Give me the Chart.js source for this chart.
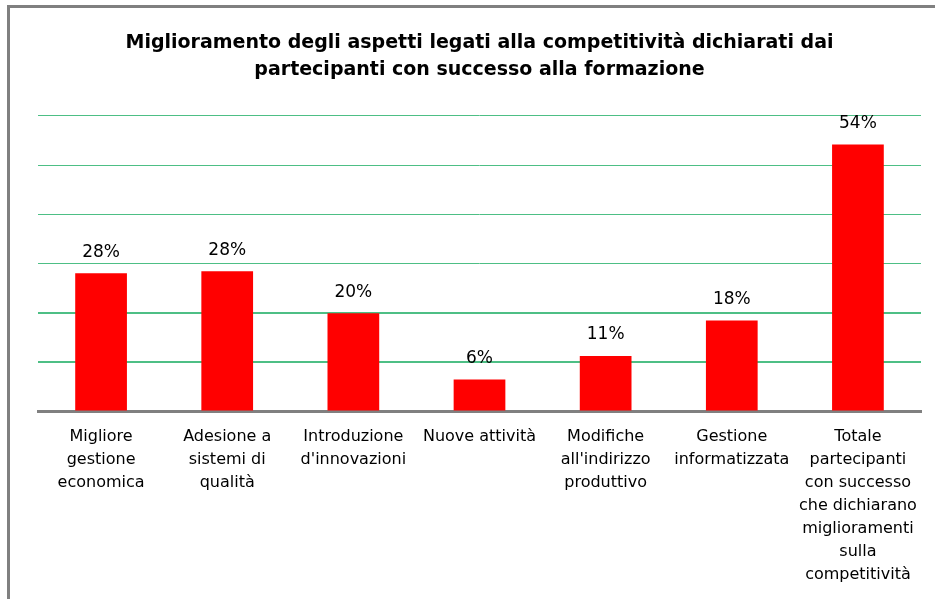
<!DOCTYPE html>
<html>
<head>
<meta charset="utf-8">
<script src="https://cdn.jsdelivr.net/npm/chart.js@4"></script>
<style>
  html, body { margin:0; padding:0; background:#fff; }
  #wrap { position:relative; width:935px; height:599px; overflow:hidden; background:#fff; }
  #frame { position:absolute; left:7px; top:5px; width:1000px; height:700px; border-left:3px solid #808080; border-top:3px solid #808080; pointer-events:none; }
  canvas { position:absolute; left:0; top:0; }
</style>
</head>
<body>
<div id="wrap">
  <canvas id="c" width="935" height="599"></canvas>
  <div id="frame"></div>
</div>
<script>
const titleLines = [
  "Miglioramento degli aspetti legati alla competitività dichiarati dai",
  "partecipanti con successo alla formazione"
];
const categories = [
  ["Migliore", "gestione", "economica"],
  ["Adesione a", "sistemi di", "qualità"],
  ["Introduzione", "d'innovazioni"],
  ["Nuove attività"],
  ["Modifiche", "all'indirizzo", "produttivo"],
  ["Gestione", "informatizzata"],
  ["Totale", "partecipanti", "con successo", "che dichiarano", "miglioramenti", "sulla", "competitività"]
];
const values = [28.0, 28.4, 19.9, 6.4, 11.2, 18.4, 54.2];
const yTicks = [0, 10, 20, 30, 40, 50, 60];

const labelPlugin = {
  id: 'valueLabels',
  afterDatasetsDraw(chart) {
    const ctx = chart.ctx;
    const meta = chart.getDatasetMeta(0);
    ctx.save();
    ctx.font = '17px "DejaVu Sans", Verdana, sans-serif';
    ctx.fillStyle = '#000';
    ctx.textAlign = 'center';
    ctx.textBaseline = 'middle';
    meta.data.forEach((bar, i) => {
      ctx.fillText(Math.round(values[i]) + '%', bar.x, bar.y - 21);
    });
    ctx.restore();
  }
};

new Chart(document.getElementById('c'), {
  type: 'bar',
  data: {
    labels: categories,
    datasets: [{
      data: values,
      backgroundColor: '#ff0000',
      borderWidth: 0,
      categoryPercentage: 1.0,
      barPercentage: 0.41
    }]
  },
  options: {
    responsive: false,
    animation: false,
    layout: { padding: { left: 38, right: 14, top: 0, bottom: 0 } },
    plugins: {
      legend: { display: false },
      tooltip: { enabled: false },
      title: {
        display: true,
        text: titleLines,
        color: '#000',
        font: { family: '"DejaVu Sans", Verdana, sans-serif', size: 19, weight: 'bold', lineHeight: 1.42 },
        padding: { top: 30, bottom: 32 }
      }
    },
    scales: {
      x: {
        grid: { display: false },
        border: { display: true, color: '#808080', width: 3 },
        ticks: {
          color: '#000',
          font: { family: '"DejaVu Sans", Verdana, sans-serif', size: 16, lineHeight: 1.44 },
          maxRotation: 0,
          autoSkip: false,
          padding: 6
        },
        afterFit(scale) { scale.height = 188; }
      },
      y: {
        min: 0,
        max: 60,
        afterBuildTicks(scale) { scale.ticks = yTicks.map(v => ({ value: v })); },
        ticks: { display: false },
        border: { display: false },
        grid: {
          color: ctx => ctx.tick && ctx.tick.value === 0 ? 'rgba(0,0,0,0)' : '#4dbf85',
          lineWidth: ctx => (ctx.tick && (ctx.tick.value === 10 || ctx.tick.value === 20)) ? 2 : 1,
          drawTicks: false
        },
        afterFit(scale) { scale.width = 0; }
      }
    }
  },
  plugins: [labelPlugin]
});
</script>
</body>
</html>
